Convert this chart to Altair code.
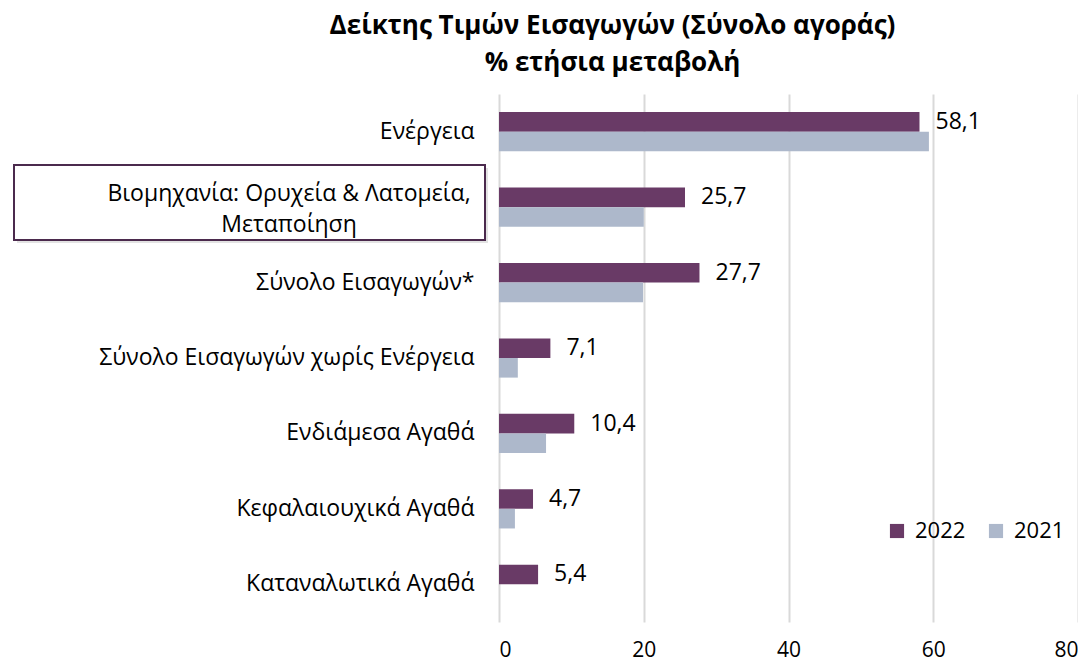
import altair as alt
import pandas as pd

categories = [
    "Ενέργεια",
    "Βιομηχανία: Ορυχεία & Λατομεία, Μεταποίηση",
    "Σύνολο Εισαγωγών*",
    "Σύνολο Εισαγωγών χωρίς Ενέργεια",
    "Ενδιάμεσα Αγαθά",
    "Κεφαλαιουχικά Αγαθά",
    "Καταναλωτικά Αγαθά",
]
v2022 = [58.1, 25.7, 27.7, 7.1, 10.4, 4.7, 5.4]
v2021 = [59.4, 20.0, 19.9, 2.6, 6.5, 2.2, 0.0]
years = ["2022", "2021"]
colors = ["#693a66", "#adb8cb"]
boxed_label = "Βιομηχανία: Ορυχεία & Λατομεία,\nΜεταποίηση"
title_lines = ["Δείκτης Τιμών Εισαγωγών (Σύνολο αγοράς)", "% ετήσια μεταβολή"]

F = "Open Sans"

rows = []
for c, a, b in zip(categories, v2022, v2021):
    rows.append({"cat": c, "year": "2022", "value": a})
    rows.append({"cat": c, "year": "2021", "value": b})
df = pd.DataFrame(rows)

y_enc = alt.Y(
    "cat:N",
    sort=categories,
    title=None,
    scale=alt.Scale(paddingInner=0.48, paddingOuter=0.24),
    axis=alt.Axis(
        ticks=False,
        domain=False,
        labelPadding=25,
        labelFont=F,
        labelFontSize=23,
        labelColor="#000000",
        labelLimit=600,
        labelExpr="indexof(datum.label, 'Βιομηχανία') == 0 ? '' : datum.label",
    ),
)
x_enc = alt.X(
    "value:Q",
    title=None,
    scale=alt.Scale(domain=[0, 80], nice=False),
    axis=alt.Axis(
        values=[0, 20, 40, 60, 80],
        grid=True,
        gridColor="#d9d9d9",
        gridWidth=2,
        domain=False,
        ticks=False,
        labelPadding=17,
        labelFont=F,
        labelFontSize=21,
        labelColor="#000000",
    ),
)
yoff_enc = alt.YOffset("year:N", sort=years, scale=alt.Scale(domain=years))

base = alt.Chart(df)

bars = base.mark_bar().encode(
    y=y_enc,
    x=x_enc,
    yOffset=yoff_enc,
    color=alt.Color(
        "year:N",
        sort=years,
        scale=alt.Scale(domain=years, range=colors),
        legend=alt.Legend(
            title=None,
            orient="none",
            legendX=387,
            legendY=426,
            direction="horizontal",
            symbolType="square",
            symbolSize=200,
            symbolStrokeWidth=0,
            symbolOpacity=1,
            labelFont=F,
            labelFontSize=22,
            labelColor="#000000",
            labelOffset=7,
            columnPadding=19,
        ),
    ),
)

value_labels = (
    base.transform_filter(alt.datum.year == "2022")
    .transform_calculate(lbl="replace(format(datum.value, '.1f'), '.', ',')")
    .mark_text(align="left", baseline="middle", dx=16, font=F, fontSize=23, color="#000000")
    .encode(y=y_enc, x=x_enc, yOffset=yoff_enc, text="lbl:N")
)

shadow = (
    alt.Chart(pd.DataFrame({"a": [0]}))
    .mark_rect(fill="#d0d0d0", opacity=0.6)
    .encode(x=alt.value(-482), x2=alt.value(-11), y=alt.value(74), y2=alt.value(149))
)
box = (
    alt.Chart(pd.DataFrame({"a": [0]}))
    .mark_rect(fill="#ffffff", stroke="#4b2a4d", strokeWidth=2)
    .encode(x=alt.value(-485), x2=alt.value(-14), y=alt.value(71), y2=alt.value(146))
)

boxed_text = (
    base.transform_filter(alt.datum.year == "2022")
    .transform_filter("indexof(datum.cat, 'Βιομηχανία') == 0")
    .transform_calculate(lbl="'" + boxed_label.replace("\n", "\\n") + "'")
    .mark_text(align="center", baseline="middle", lineBreak="\n", lineHeight=31,
               dy=-13, font=F, fontSize=23, color="#000000")
    .encode(y=y_enc, x=alt.value(-210), text="lbl:N")
)

chart = (
    alt.layer(shadow, box, bars, value_labels, boxed_text)
    .properties(
        width=579,
        height=528,
        title=alt.TitleParams(
            title_lines,
            font=F,
            fontSize=26,
            fontWeight="bold",
            color="#000000",
            anchor="middle",
            dx=-176,
            lineHeight=37,
            offset=18,
        ),
        padding={"left": 5, "top": 5, "right": 0, "bottom": 5},
    )
    .configure_view(stroke=None)
)

chart.save("out.html", embed_options={"renderer": "svg", "actions": False})
